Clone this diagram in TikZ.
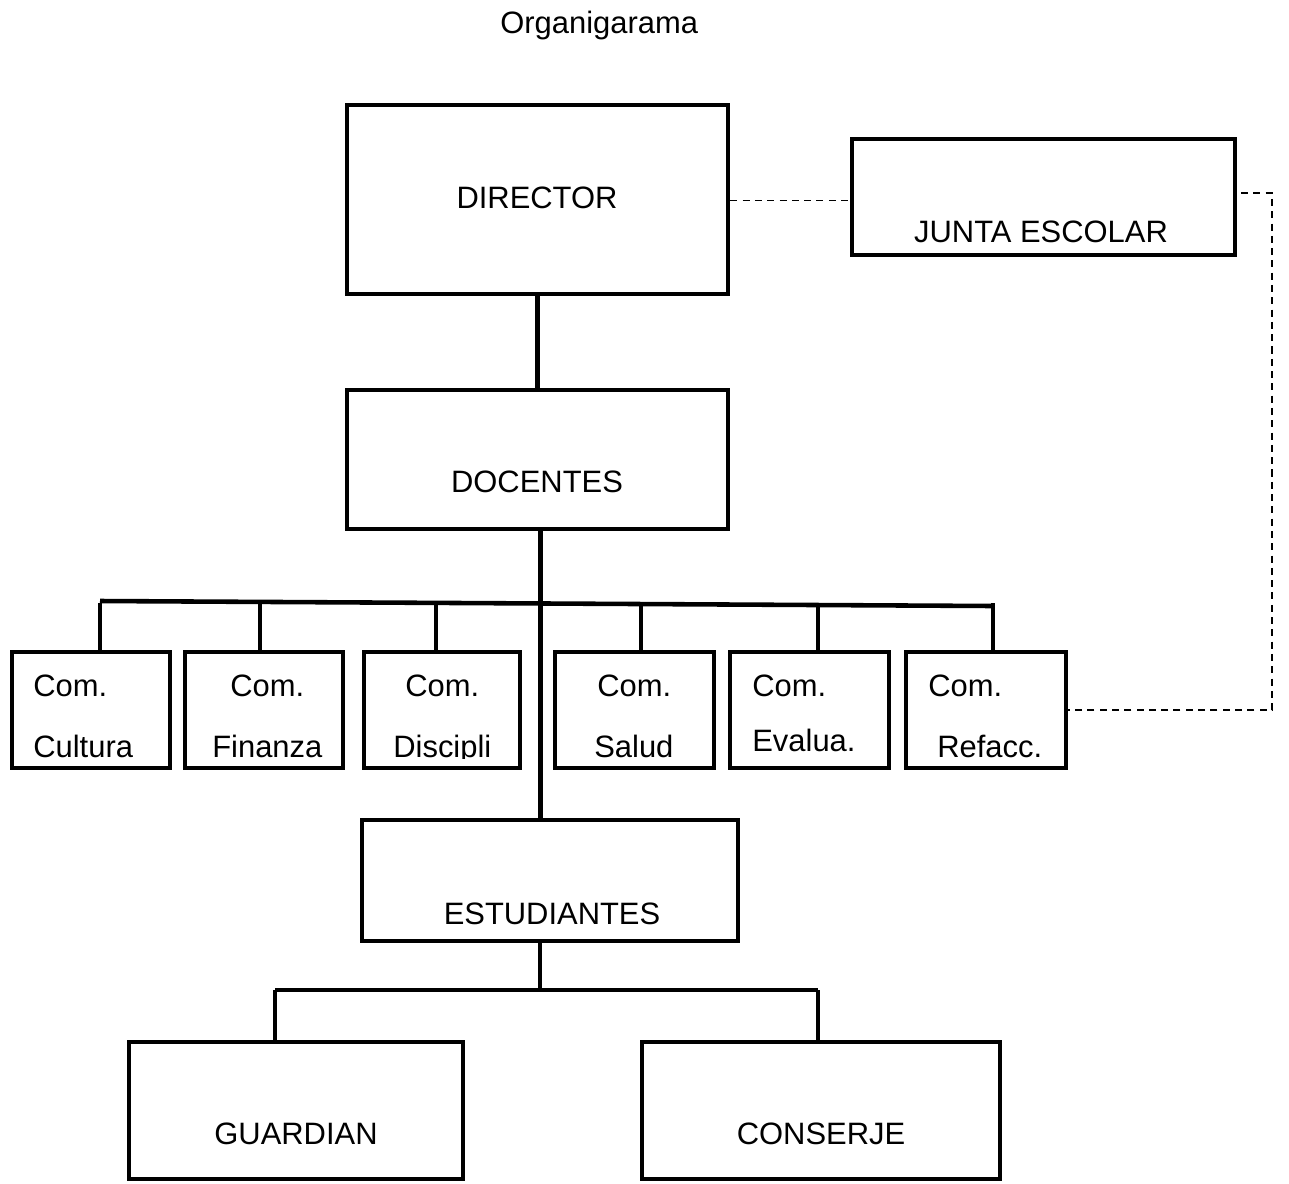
\documentclass[tikz,border=0pt]{standalone}
\usepackage{fontspec}
\setmainfont{Liberation Sans}
\usetikzlibrary{calc}
\def\px{0.02cm}
\tikzset{
  box/.style={draw=black, line width=2.7pt, inner sep=0pt},
  link/.style={draw=black, line width=2.6pt},
  rel/.style={draw=black, line width=0.9pt, dash pattern=on 4pt off 3pt},
  lab/.style={font=\fontsize{17.6}{21}\selectfont, inner sep=0pt},
}
\begin{document}
\begin{tikzpicture}[x=0.02cm,y=-0.02cm]
  \useasboundingbox (0,0) rectangle (1289,1184);
  \node[lab, anchor=base west] (title) at (500,33) {Organigarama};

  % main chain
  \node[box, minimum width=381*\px, minimum height=189*\px] (dir) at (537.5,199.5) {};
  \node[box, minimum width=383*\px, minimum height=116*\px] (junta) at (1043.5,197) {};
  \node[box, minimum width=381*\px, minimum height=139*\px] (doc) at (537.5,459.5) {};
  \node[box, minimum width=376*\px, minimum height=121*\px] (est) at (550,880.5) {};
  \node[box, minimum width=334*\px, minimum height=137*\px] (guard) at (296,1110.5) {};
  \node[box, minimum width=358*\px, minimum height=137*\px] (cons) at (821,1110.5) {};

  \node[lab, anchor=base] (dirt) at (537,208) {DIRECTOR};
  \node[lab, anchor=base] (juntat) at (1041,242) {JUNTA ESCOLAR};
  \node[lab, anchor=base] (doct) at (537,492) {DOCENTES};
  \node[lab, anchor=base] (estt) at (552,924) {ESTUDIANTES};
  \node[lab, anchor=base] (guardt) at (296,1144) {GUARDIAN};
  \node[lab, anchor=base] (const) at (821,1144) {CONSERJE};

  % comisiones
  \node[box, minimum width=158*\px, minimum height=116*\px] (c1) at (91,710) {};
  \node[box, minimum width=158*\px, minimum height=116*\px] (c2) at (264,710) {};
  \node[box, minimum width=156*\px, minimum height=116*\px] (c3) at (442,710) {};
  \node[box, minimum width=159*\px, minimum height=116*\px] (c4) at (634.5,710) {};
  \node[box, minimum width=159*\px, minimum height=116*\px] (c5) at (809.5,710) {};
  \node[box, minimum width=160*\px, minimum height=116*\px] (c6) at (986,710) {};

  \node[lab, anchor=base west] (c1a) at (33,696) {Com.};
  \node[lab, anchor=base west] (c2a) at (230,696) {Com.};
  \node[lab, anchor=base west] (c3a) at (405,696) {Com.};
  \node[lab, anchor=base west] (c4a) at (597,696) {Com.};
  \node[lab, anchor=base west] (c5a) at (752,696) {Com.};
  \node[lab, anchor=base west] (c6a) at (928,696) {Com.};
  \node[lab, anchor=base west] (c1b) at (33,757) {Cultura};
  \node[lab, anchor=base west] (c2b) at (212,757) {Finanza};
  \begin{scope}
    \clip (362,650) rectangle (522,758);
    \node[lab, anchor=base west] (c3b) at (393,757) {Discipli};
  \end{scope}
  \node[lab, anchor=base west] (c4b) at (594,757) {Salud};
  \node[lab, anchor=base west] (c5b) at (752,751) {Evalua.};
  \node[lab, anchor=base west] (c6b) at (937,757) {Refacc.};

  % lines
  \draw[link] (dir.south) -- (doc.north);
  \draw[link] (doc.south) ++(3,0) coordinate (dd) -- (dd |- est.north);
  \draw[link] (100,601) -- (993,606);
  \foreach \n/\x in {c1/100,c2/260,c3/436,c4/641,c5/818,c6/993}
    \draw[link] (\x,603) -- (\x,603 |- \n.north);
  \draw[link] (est.south) ++(-10,0) coordinate (ed) -- (ed |- 0,990) coordinate (eb);
  \draw[link] (275,990) -- (818,990);
  \draw[link] (275,990) -- (275,990 |- guard.north);
  \draw[link] (818,990) -- (818,990 |- cons.north);

  % junta escolar
  \draw[rel] (dir.east) ++(0,1) coordinate (de) -- (de -| junta.west);
  \draw[rel] (1241,193) coordinate (jr) -- (1272,193) |- (c6.east);
\end{tikzpicture}
\end{document}
